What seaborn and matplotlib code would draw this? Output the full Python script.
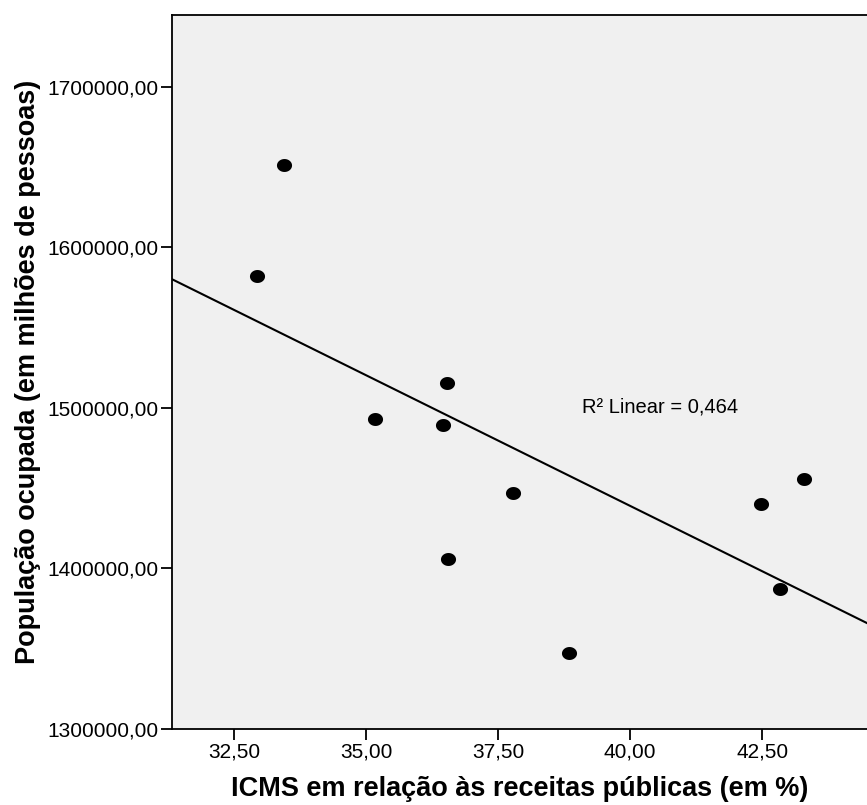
import numpy as np
import pandas as pd
import seaborn as sns
import matplotlib.pyplot as plt
from matplotlib.ticker import FuncFormatter

# values
icms = [32.94, 33.44, 35.18, 36.53, 36.45, 36.56, 37.79, 38.84, 42.48, 43.28, 42.83]
populacao = [1582067, 1651183, 1493026, 1515629, 1489290, 1406040,
             1446762, 1347136, 1440286, 1455666, 1387360]
x_ticks = [32.5, 35.0, 37.5, 40.0, 42.5]
y_ticks = [1300000, 1400000, 1500000, 1600000, 1700000]
r2_text = "R\u00b2 Linear = 0,464"
x_label = "ICMS em relação às receitas públicas (em %)"
y_label = "População ocupada (em milhões de pessoas)"

df = pd.DataFrame({"icms": icms, "pop": populacao})

sns.set_style("ticks")
plt.rcParams['font.family'] = ['Liberation Sans', 'DejaVu Sans']
plt.rcParams['text.color'] = 'black'
plt.rcParams['axes.labelcolor'] = 'black'

W, H = 867, 805
fig = plt.figure(figsize=(W / 100, H / 100), dpi=100)
ax = fig.add_axes([172 / W, 76 / H, 696 / W, 714 / H])
ax.set_facecolor("#f0f0f0")

ax.set_xlim(31.33, 44.50)
ax.set_ylim(1300000, 1744800)

# slightly flattened dot like the SPSS marker
t = np.linspace(0, 2 * np.pi, 60)
dot = list(zip(np.cos(t), 0.86 * np.sin(t)))

sns.regplot(data=df, x="icms", y="pop", ax=ax, ci=None, truncate=False,
            marker=dot,
            scatter_kws={"s": 118, "color": "black", "linewidths": 0, "alpha": 1},
            line_kws={"color": "black", "linewidth": 1.5})

ax.set_xlim(31.33, 44.50)
ax.set_ylim(1300000, 1744800)

fmt = FuncFormatter(lambda v, p: f"{v:.2f}".replace(".", ","))
ax.set_xticks(x_ticks)
ax.set_yticks(y_ticks)
ax.xaxis.set_major_formatter(fmt)
ax.yaxis.set_major_formatter(fmt)
ax.tick_params(axis="both", direction="out", length=8, width=1.3,
               color="black", labelsize=15, labelcolor="black", pad=2)

for side in ["left", "bottom", "top"]:
    ax.spines[side].set_color("black")
    ax.spines[side].set_linewidth(1.3)
ax.spines["right"].set_visible(False)

ax.set_xlabel(x_label, fontsize=19.5, fontweight="bold", labelpad=10, color="black")
ax.set_ylabel(y_label, fontsize=19.5, fontweight="bold", labelpad=4, color="black")

ax.text(39.08, 1500800, r2_text, fontsize=14.5, va="center", ha="left", color="black")

fig.savefig("out.png", dpi=100)
